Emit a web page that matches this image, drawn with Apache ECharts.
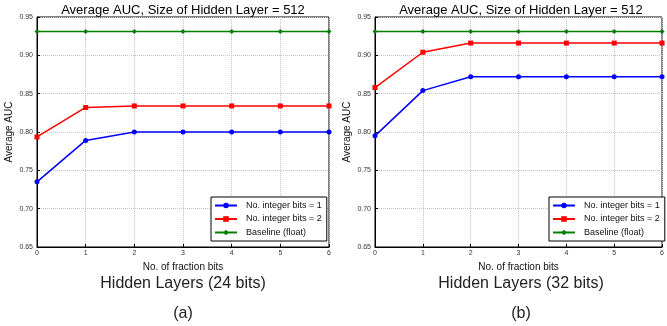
<!DOCTYPE html>
<html>
<head>
<meta charset="utf-8">
<script src="https://cdn.jsdelivr.net/npm/echarts@6/dist/echarts.min.js"></script>
<style>
  html, body { margin: 0; padding: 0; background: #fff; }
  #chart { width: 667px; height: 326px; }
</style>
</head>
<body>
<div id="chart"></div>
<script>
// data
var fractionBits = [0, 1, 2, 3, 4, 5, 6];
var int1_24 = [0.735, 0.789, 0.800, 0.800, 0.800, 0.800, 0.800];
var int2_24 = [0.7935, 0.832, 0.834, 0.834, 0.834, 0.834, 0.834];
var base_24 = [0.931, 0.931, 0.931, 0.931, 0.931, 0.931, 0.931];
var int1_32 = [0.795, 0.854, 0.872, 0.872, 0.872, 0.872, 0.872];
var int2_32 = [0.858, 0.904, 0.916, 0.916, 0.916, 0.916, 0.916];
var base_32 = [0.931, 0.931, 0.931, 0.931, 0.931, 0.931, 0.931];
var seriesNames = ["No. integer bits = 1", "No. integer bits = 2", "Baseline (float)"];
var panelTitle = "Average AUC, Size of Hidden Layer = 512";
var subTitles = ["Hidden Layers (24 bits)", "Hidden Layers (32 bits)"];
var panelTags = ["(a)", "(b)"];

var FONT = "Liberation Sans, Arial, sans-serif";

function pairs(ys) {
  return fractionBits.map(function (x, i) { return [x, ys[i]]; });
}

var myChart = echarts.init(document.getElementById("chart"));

var grids = [
  { left: 37, top: 17, width: 292, height: 230 },
  { left: 375, top: 17, width: 293, height: 230 }
];
var centers = [183, 521];

function makeX(i) {
  return {
    type: "value", gridIndex: i, min: 0, max: 6, interval: 1,
    name: "No. of fraction bits", nameLocation: "middle", nameGap: 10,
    nameTextStyle: { fontSize: 10, fontFamily: FONT, color: "#111" },
    axisLine: { lineStyle: { color: "#000", width: 1 } },
    axisTick: { inside: true, length: 3, lineStyle: { color: "#000" } },
    axisLabel: { fontSize: 7, color: "#333", margin: 3, fontFamily: FONT },
    splitLine: { show: true, lineStyle: { color: "#c4c4c4", type: "dotted", width: 1 } }
  };
}
function makeY(i) {
  return {
    type: "value", gridIndex: i, min: 0.65, max: 0.95, interval: 0.05,
    name: "Average AUC", nameLocation: "middle", nameGap: 23, nameRotate: 90,
    nameTextStyle: { fontSize: 10, fontFamily: FONT, color: "#111" },
    axisLine: { show: true, lineStyle: { color: "#000", width: 1 } },
    axisTick: { show: true, inside: true, length: 3, lineStyle: { color: "#000" } },
    axisLabel: {
      fontSize: 7, color: "#333", margin: 4, fontFamily: FONT,
      formatter: function (v) { return v.toFixed(2); }
    },
    splitLine: { show: true, lineStyle: { color: "#c4c4c4", type: "dotted", width: 1 } }
  };
}
function line(name, i, ys, color, symbol, size) {
  return {
    name: name, type: "line", xAxisIndex: i, yAxisIndex: i,
    data: pairs(ys), symbol: symbol, symbolSize: size,
    color: color,
    lineStyle: { color: color, width: 1.5 },
    itemStyle: { color: color },
    animation: false
  };
}
function makeLegend(left) {
  return {
    orient: "vertical", left: left, top: 197,
    data: seriesNames,
    itemWidth: 22, itemHeight: 7, itemGap: 2.5,
    padding: [3, 5, 3, 3],
    borderColor: "#000", borderWidth: 1, borderRadius: 0,
    backgroundColor: "#fff",
    textStyle: { fontSize: 9, fontFamily: FONT, color: "#111", lineHeight: 11, padding: [0, 0, 0, 4] }
  };
}

var titles = [];
[0, 1].forEach(function (i) {
  titles.push({ text: panelTitle, left: centers[i], top: 4, textAlign: "center", padding: 0,
    textStyle: { fontSize: 13, fontWeight: "normal", fontFamily: FONT, color: "#000", lineHeight: 13 } });
  titles.push({ text: subTitles[i], left: centers[i], top: 276, textAlign: "center", padding: 0,
    textStyle: { fontSize: 16, fontWeight: "normal", fontFamily: FONT, color: "#222" } });
  titles.push({ text: panelTags[i], left: centers[i], top: 306, textAlign: "center", padding: 0,
    textStyle: { fontSize: 16, fontWeight: "normal", fontFamily: FONT, color: "#222" } });
});

myChart.setOption({
  animation: false,
  title: titles,
  grid: grids.map(function (g) {
    return Object.assign({ show: true, borderColor: "#000", borderWidth: 1, backgroundColor: "#fff" }, g);
  }),
  xAxis: [makeX(0), makeX(1)],
  yAxis: [makeY(0), makeY(1)],
  legend: [makeLegend(211), makeLegend(549)],
  series: [
    line(seriesNames[0], 0, int1_24, "#0000ff", "circle", 5),
    line(seriesNames[1], 0, int2_24, "#ff0000", "rect", 5),
    line(seriesNames[2], 0, base_24, "#007f00", "diamond", 5),
    line(seriesNames[0], 1, int1_32, "#0000ff", "circle", 5),
    line(seriesNames[1], 1, int2_32, "#ff0000", "rect", 5),
    line(seriesNames[2], 1, base_32, "#007f00", "diamond", 5)
  ]
});
</script>
</body>
</html>
